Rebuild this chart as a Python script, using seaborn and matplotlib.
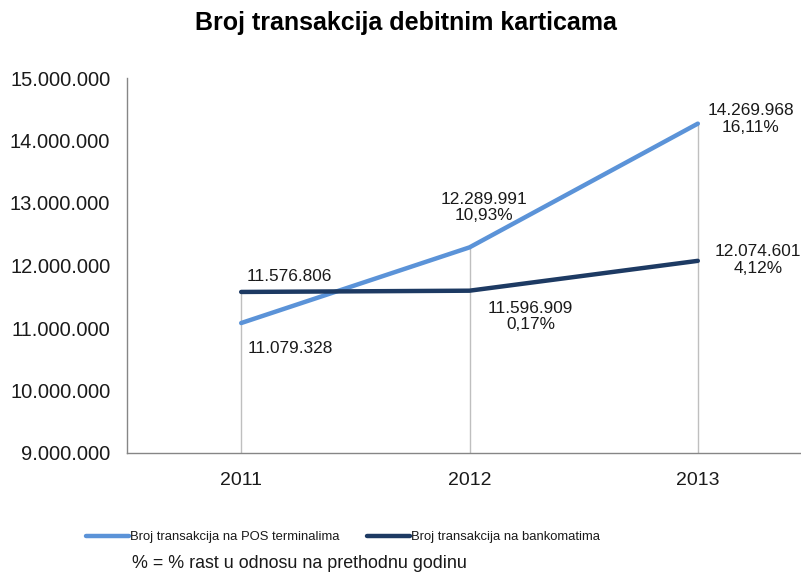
import matplotlib
matplotlib.use("Agg")
import matplotlib.pyplot as plt
from matplotlib.ticker import FuncFormatter
import seaborn as sns
import pandas as pd

years = [2011, 2012, 2013]
pos = [11079328, 12289991, 14269968]
atm = [11576806, 11596909, 12074601]
pos_pct = ["", "10,93%", "16,11%"]
atm_pct = ["", "0,17%", "4,12%"]
pos_name = "Broj transakcija na POS terminalima"
atm_name = "Broj transakcija na bankomatima"

def fmt(v):
    return "{:,}".format(int(v)).replace(",", ".")

df = pd.DataFrame({
    "year": years * 2,
    "value": pos + atm,
    "serie": [pos_name] * 3 + [atm_name] * 3,
})

sns.set_style("white")
plt.rcParams["font.family"] = ["Liberation Sans", "DejaVu Sans"]
plt.rcParams["text.color"] = "#1a1a1a"
plt.rcParams["xtick.color"] = "#1a1a1a"
plt.rcParams["ytick.color"] = "#1a1a1a"

fig = plt.figure(figsize=(8.01, 5.73), dpi=100)
ax = fig.add_axes([127 / 801, 1 - 453 / 573, 685 / 801, 375 / 573])

# drop lines from the higher point down to the axis
ax.vlines(years, 9000000, [max(a, b) for a, b in zip(pos, atm)],
          color="#bfbfbf", lw=1, zorder=1)

sns.lineplot(data=df, x="year", y="value", hue="serie",
             palette=["#5b93d8", "#1d3a63"], lw=3.2, ax=ax, zorder=3,
             legend=False)

ax.set_xlim(2010.5, 2013.5)
ax.set_ylim(9000000, 15000000)
ax.set_yticks(range(9000000, 15000001, 1000000))
ax.yaxis.set_major_formatter(FuncFormatter(lambda v, p: fmt(v)))
ax.set_xticks(years)
ax.set_xlabel("")
ax.set_ylabel("")
ax.tick_params(axis="y", length=4, color="#868686", pad=8, labelsize=14.5)
ax.tick_params(axis="x", length=0, pad=14, labelsize=14)
for s in ["top", "right"]:
    ax.spines[s].set_visible(False)
for s in ["left", "bottom"]:
    ax.spines[s].set_color("#868686")
    ax.spines[s].set_linewidth(1)

# data labels
pos_off = [(6, -18, "left", "top"), (14, 24, "center", "bottom"), (53, 5, "center", "center")]
atm_off = [(5, 8, "left", "bottom"), (61, -10, "center", "top"), (60, 1, "center", "center")]
for i, y in enumerate(years):
    for vals, pcts, off in [(pos, pos_pct, pos_off), (atm, atm_pct, atm_off)]:
        txt = fmt(vals[i]) + ("\n" + pcts[i] if pcts[i] else "")
        dx, dy, ha, va = off[i]
        ax.annotate(txt, (y, vals[i]), xytext=(dx, dy), textcoords="offset pixels",
                    ha=ha, va=va, fontsize=12.4, linespacing=1.15)

fig.text(406 / 801, 1 - 23 / 573, "Broj transakcija debitnim karticama",
         ha="center", va="center", fontsize=18, fontweight="bold", color="black")

handles = [plt.Line2D([], [], color="#5b93d8", lw=3.2),
           plt.Line2D([], [], color="#1d3a63", lw=3.2)]
fig.legend(handles, [pos_name, atm_name], ncol=2, frameon=False,
           loc="center left", bbox_to_anchor=(74 / 801, 1 - 537 / 573),
           fontsize=9.4, handlelength=3.3, handletextpad=0.1, columnspacing=2.1)
fig.text(132 / 801, 1 - 563 / 573, "% = % rast u odnosu na prethodnu godinu",
         ha="left", va="center", fontsize=12.9)

fig.savefig("out.png", dpi=100)
